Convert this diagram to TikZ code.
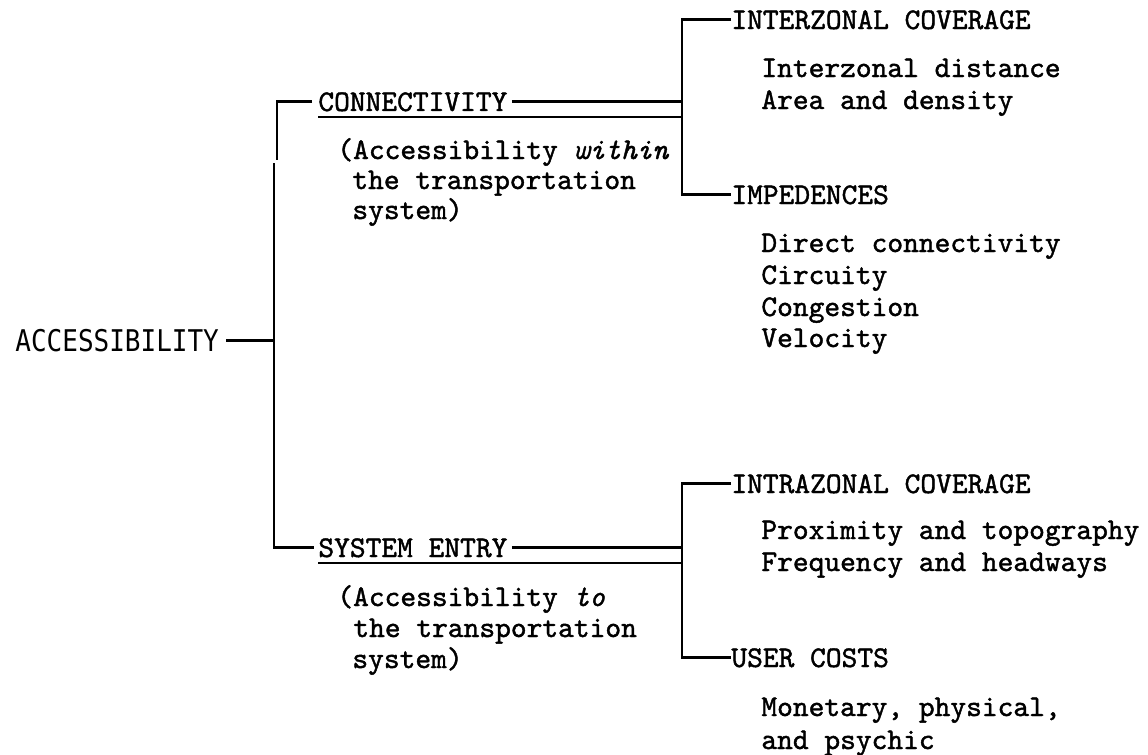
\documentclass[tikz,border=0pt]{standalone}
\usepackage{fontspec}
\newfontfamily\tw{lmmono10-regular}[Extension=.otf, ItalicFont=lmmono10-italic, FakeBold=1.4]
\newfontfamily\hd{DejaVu Sans Mono}
\begin{document}
\begin{tikzpicture}[x=0.5pt, y=-0.5pt,
    txt/.style={inner sep=0pt, anchor=base west, font=\tw\fontsize{15}{16}\selectfont},
    head/.style={inner sep=0pt, anchor=base west, font=\hd\fontsize{13}{14}\selectfont},
    brace/.style={line width=1.4pt, line join=miter},
    uline/.style={line width=1.1pt}]
\useasboundingbox[fill=white] (0,0) rectangle (1148,755);

% root
\node[head] (acc) at (15,351) {\scalebox{1}[1.15]{ACCESSIBILITY}};

% second level
\node[txt] (conn) at (318,111) {CONNECTIVITY};
\node[txt] (connA) at (337,159) {(Accessibility \textit{within}};
\node[txt] (connB) at (352,189) {the transportation};
\node[txt] (connC) at (352,219) {system)};

\node[txt] (sys) at (318,557) {SYSTEM ENTRY};
\node[txt] (sysA) at (337,606) {(Accessibility \textit{to}};
\node[txt] (sysB) at (353,637) {the transportation};
\node[txt] (sysC) at (352,668) {system)};

% third level, upper group
\node[txt] (intz) at (731,29) {INTERZONAL COVERAGE};
\node[txt] (intz1) at (761,77) {Interzonal distance};
\node[txt] (intz2) at (761,109) {Area and density};
\node[txt] (imp) at (731,204) {IMPEDENCES};
\node[txt] (imp1) at (761,252) {Direct connectivity};
\node[txt] (imp2) at (761,284) {Circuity};
\node[txt] (imp3) at (761,316) {Congestion};
\node[txt] (imp4) at (761,347) {Velocity};

% third level, lower group
\node[txt] (intra) at (731,493) {INTRAZONAL COVERAGE};
\node[txt] (intra1) at (761,539) {Proximity and topography};
\node[txt] (intra2) at (761,571) {Frequency and headways};
\node[txt] (user) at (731,667) {USER COSTS};
\node[txt] (user1) at (761,716) {Monetary, physical,};
\node[txt] (user2) at (761,749) {and psychic};

% bracket spines
\coordinate (lA) at (277,160);
\coordinate (lB) at (274,163);
\coordinate (rU) at (682,20);
\coordinate (rL) at (682,480);

% left bracket
\draw[brace, shorten <=3pt] (conn.west) -- (conn.west -| lA) -- (lA);
\draw[brace, shorten >=2pt] (lB) -- (sys.west -| lB) -- (sys.west);
\draw[brace, shorten <=3.5pt] (acc.east) -- (acc.east -| lB);

% upper right bracket
\draw[brace] (intz.west) -- (intz.west -| rU) -- (imp.west -| rU) -- (imp.west);
\draw[brace, shorten <=2pt] (conn.east) -- (conn.east -| rU);
\draw[uline] ([yshift=-3pt]conn.base west) -- ([yshift=-3pt]conn.base west -| rU);

% lower right bracket
\draw[brace] (intra.west) -- (intra.west -| rL) -- (user.west -| rL) -- (user.west);
\draw[brace, shorten <=2pt] (sys.east) -- (sys.east -| rL);
\draw[uline] ([yshift=-3pt]sys.base west) -- ([yshift=-3pt]sys.base west -| rL);
\end{tikzpicture}
\end{document}
